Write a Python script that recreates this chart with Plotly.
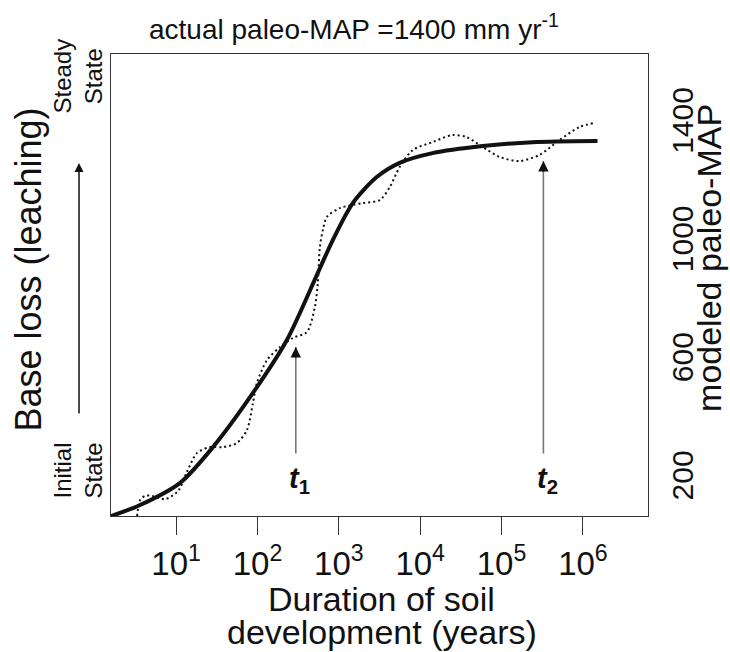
import math
import plotly.graph_objects as go

# ---- data ----
solid_years = [1.59, 3.61, 11.2, 28.4, 88, 230, 552, 843, 1486, 2925, 5600, 14200, 58400, 240000, 1510000]
solid_map = [78, 115, 190, 311, 494, 673, 900, 1011, 1136, 1224, 1272, 1305, 1329, 1342, 1346]

dotted_years = [3.32, 3.61, 4.17, 5.08, 7.33, 10.6, 13.6, 18.1, 26.1, 37.8, 56, 74.3, 88, 98.6, 131,
                189, 273, 405, 508, 552, 585, 637, 713, 1029, 1969, 3183, 4226, 5600, 8090, 14200,
                25000, 37200, 58500, 94500, 166000, 293000, 515000, 906000, 1380000]
dotted_map = [78, 132, 146, 146, 135, 163, 227, 291, 311, 311, 325, 369, 460, 528, 605,
              649, 680, 700, 785, 866, 987, 1045, 1089, 1119, 1136, 1146, 1190, 1258, 1315, 1342,
              1366, 1359, 1326, 1292, 1278, 1299, 1349, 1393, 1407]

x_tick_vals = [1e1, 1e2, 1e3, 1e4, 1e5, 1e6]
x_tick_text = ["10<sup>1</sup>", "10<sup>2</sup>", "10<sup>3</sup>", "10<sup>4</sup>", "10<sup>5</sup>", "10<sup>6</sup>"]
y_tick_vals = [200, 600, 1000, 1400]
y_tick_text = ["200", "600", "1000", "1400"]

arrow_labels = ["t", "t"]
arrow_subs = ["1", "2"]
arrow_years = [296, 327000]
arrow_tip_map = [649, 1278]
arrow_base_map = [284, 284]
arrow_label_map = [200, 200]

FONT = "Arial, Liberation Sans, Helvetica, sans-serif"

# layout geometry (pixels)
W, H = 730, 652
L, R, T, B = 110.5, 648, 54, 516


def px_x(px):
    return (px - L) / (R - L)


def px_y(py):
    return (B - py) / (B - T)


fig = go.Figure()
fig.add_trace(go.Scatter(x=dotted_years, y=dotted_map, mode="lines",
                         line=dict(color="#111", width=2, dash="2px,3px", shape="spline", smoothing=0.8),
                         hoverinfo="skip", showlegend=False))
fig.add_trace(go.Scatter(x=solid_years, y=solid_map, mode="lines",
                         line=dict(color="#111", width=4, shape="spline", smoothing=0.8),
                         hoverinfo="skip", showlegend=False))

annotations = []
# t1 / t2 arrows: grey shaft + black head (annotation x on a log axis is given as log10)
for lab, sub, xv, tip, base, ly in zip(arrow_labels, arrow_subs, arrow_years, arrow_tip_map,
                                       arrow_base_map, arrow_label_map):
    lx = math.log10(xv)
    annotations.append(dict(x=lx, y=tip, xref="x", yref="y", ax=lx, ay=base, axref="x", ayref="y",
                            text="", showarrow=True, arrowhead=0, arrowwidth=1.6, arrowcolor="#777"))
    annotations.append(dict(x=lx, y=tip, xref="x", yref="y", ax=0, ay=12, text="", showarrow=True,
                            arrowhead=2, arrowsize=1.3, arrowwidth=1.6, arrowcolor="#111"))
    annotations.append(dict(x=lx, y=ly, xref="x", yref="y", showarrow=False,
                            text=f"<b><i>{lab}</i></b><sub><b>{sub}</b></sub>",
                            font=dict(family=FONT, size=29, color="#111"), xanchor="center", yanchor="middle",
                            xshift=4))

# left side annotations
annotations.append(dict(x=px_x(27), y=px_y(270), xref="paper", yref="paper", showarrow=False,
                        text="Base loss (leaching)", textangle=-90,
                        font=dict(family=FONT, size=36, color="#111"), xanchor="center", yanchor="middle"))
annotations.append(dict(x=px_x(77), y=px_y(76), xref="paper", yref="paper", showarrow=False,
                        text="Steady<br>State", textangle=-90, align="center",
                        font=dict(family=FONT, size=24, color="#111"), xanchor="center", yanchor="middle"))
annotations.append(dict(x=px_x(77), y=px_y(471), xref="paper", yref="paper", showarrow=False,
                        text="Initial<br>State", textangle=-90, align="center",
                        font=dict(family=FONT, size=24, color="#111"), xanchor="center", yanchor="middle"))
annotations.append(dict(x=px_x(78.5), y=px_y(163), xref="paper", yref="paper", ax=0, ay=252,
                        text="", showarrow=True, arrowhead=2, arrowsize=1.2, arrowwidth=1.5,
                        arrowcolor="#111"))
# right axis title
annotations.append(dict(x=px_x(709), y=px_y(258), xref="paper", yref="paper", showarrow=False,
                        text="modeled paleo-MAP", textangle=-90,
                        font=dict(family=FONT, size=34, color="#111"), xanchor="center", yanchor="middle"))
# x axis title (two lines)
annotations.append(dict(x=px_x(381), y=px_y(599), xref="paper", yref="paper", showarrow=False,
                        text="Duration of soil",
                        font=dict(family=FONT, size=34, color="#111"), xanchor="center", yanchor="middle"))
annotations.append(dict(x=px_x(382), y=px_y(632), xref="paper", yref="paper", showarrow=False,
                        text="development (years)",
                        font=dict(family=FONT, size=34, color="#111"), xanchor="center", yanchor="middle"))
# top title
annotations.append(dict(x=px_x(354), y=px_y(27), xref="paper", yref="paper", showarrow=False,
                        text="actual paleo-MAP =1400 mm yr<sup>-1</sup>",
                        font=dict(family=FONT, size=28, color="#111"), xanchor="center", yanchor="middle"))

fig.update_layout(
    width=W, height=H,
    margin=dict(l=L, r=W - R, t=T, b=H - B, pad=0),
    paper_bgcolor="white", plot_bgcolor="white",
    showlegend=False,
    annotations=annotations,
    xaxis=dict(type="log", range=[0.2, 6.8], tickvals=x_tick_vals, ticktext=x_tick_text,
               ticks="outside", ticklen=18, tickwidth=1.2, tickcolor="#333",
               showline=True, linecolor="#333", linewidth=1.3, mirror=True,
               showgrid=False, zeroline=False,
               tickfont=dict(family=FONT, size=33, color="#111")),
    yaxis=dict(range=[78, 1640], side="right", tickvals=y_tick_vals, ticktext=y_tick_text,
               ticks="", tickangle=-90, ticklabelstandoff=8,
               showline=True, linecolor="#333", linewidth=1.3, mirror=True,
               showgrid=False, zeroline=False,
               tickfont=dict(family=FONT, size=30, color="#111")),
)

fig.write_html("out.html")
